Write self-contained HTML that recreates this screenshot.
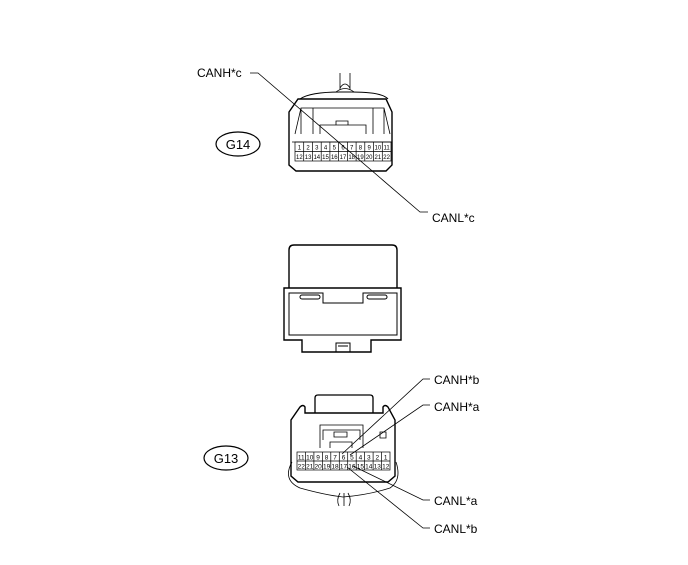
<!DOCTYPE html>
<html><head><style>
html,body{margin:0;padding:0;background:#fff;}
svg text{font-family:"Liberation Sans",sans-serif;}
</style></head><body>
<svg width="688" height="560" viewBox="0 0 688 560" xmlns="http://www.w3.org/2000/svg" fill="none" stroke="#000">
<!-- G14 -->
<ellipse cx="238" cy="144" rx="22" ry="12" stroke-width="1.2"/>
<text x="238" y="149" font-size="13" text-anchor="middle" fill="#000" stroke="none">G14</text>
<path d="M340 73 V90 M350 73 V90 M340 88 Q345 80 350 88 M336 92 Q345 85 354 92" stroke-width="0.8"/>
<path d="M300 99 Q310 92 340 92 H352 Q382 92 388 99" stroke-width="1"/>
<path d="M289 112 L298 99 H386 L392 112 V165 L386 171 H296 L289 165 Z" stroke-width="1.4"/>
<path d="M295 134 L301 108 H384 L390 134 M301 108 V134 M384 108 V134 M313 108 V134 M373 108 V134 M320 134 V125 H366 V134 M336 125 V121 H348 V125" stroke-width="0.8"/>
<path d="M292 142 H392" stroke-width="0.8"/>
<g stroke-width="0.7">
<rect x="295" y="142" width="96" height="19"/>
<line x1="295" y1="151.5" x2="391" y2="151.5"/>
<path d="M303.7 142V161M312.5 142V161M321.2 142V161M329.9 142V161M338.6 142V161M347.4 142V161M356.1 142V161M364.8 142V161M373.5 142V161M382.3 142V161"/>
</g>
<g font-size="6" fill="#000" stroke="none" text-anchor="middle">
<text x="299.4" y="149.5">1</text><text x="308.1" y="149.5">2</text><text x="316.8" y="149.5">3</text><text x="325.5" y="149.5">4</text><text x="334.3" y="149.5">5</text><text x="343" y="149.5">6</text><text x="351.7" y="149.5">7</text><text x="360.4" y="149.5">8</text><text x="369.2" y="149.5">9</text><text x="377.9" y="149.5">10</text><text x="386.6" y="149.5">11</text>
<text x="299.4" y="159">12</text><text x="308.1" y="159">13</text><text x="316.8" y="159">14</text><text x="325.5" y="159">15</text><text x="334.3" y="159">16</text><text x="343" y="159">17</text><text x="351.7" y="159">18</text><text x="360.4" y="159">19</text><text x="369.2" y="159">20</text><text x="377.9" y="159">21</text><text x="386.6" y="159">22</text>
</g>
<text x="197" y="77" font-size="12" fill="#000" stroke="none">CANH*c</text>
<path d="M250 73 H258 L420 212 H428" stroke-width="0.8"/>
<text x="432" y="222" font-size="12" fill="#000" stroke="none">CANL*c</text>
<!-- middle -->
<g stroke-width="1.4">
<path d="M289 288 V250 Q289 245 294 245 H392 Q397 245 397 250 V288"/>
<path d="M284 288 H401 V340 H371 V352 H302 V340 H284 Z"/>
</g>
<g stroke-width="1">
<path d="M289 335 V293 H323 V303 H363 V293 H397 V335 Z"/>
<rect x="300" y="295" width="20" height="4" rx="2"/>
<rect x="367" y="295" width="20" height="4" rx="2"/>
<path d="M336 352 V343 H350 V352 M338 346 H348"/>
</g>
<!-- G13 -->
<ellipse cx="226" cy="458" rx="22" ry="12" stroke-width="1.2"/>
<text x="226" y="463" font-size="13" text-anchor="middle" fill="#000" stroke="none">G13</text>
<path d="M315 413 V398 Q315 395 318 395 H370 Q373 395 373 398 V413" stroke-width="1.3"/>
<path d="M291 476 V420 L300 407 Q303 404 305 407 V413 H383 V407 Q385 404 388 407 L395 420 V476 L388 482 H298 Z" stroke-width="1.4"/>
<path d="M320 448 V425 H363 V448 M323 440 V430 H360 V440 M334 432 H347 V437 H334 Z M330 448 V442 H352 V448 M380 432 h6 v6 h-6 z" stroke-width="0.8"/>
<g stroke-width="0.7">
<rect x="297" y="452" width="93" height="18"/>
<line x1="297" y1="461" x2="390" y2="461"/>
<path d="M305.5 452V470M313.9 452V470M322.4 452V470M330.8 452V470M339.3 452V470M347.7 452V470M356.2 452V470M364.6 452V470M373.1 452V470M381.5 452V470"/>
</g>
<g font-size="6.5" fill="#000" stroke="none" text-anchor="middle">
<text x="301.2" y="459.5">11</text><text x="309.7" y="459.5">10</text><text x="318.1" y="459.5">9</text><text x="326.6" y="459.5">8</text><text x="335" y="459.5">7</text><text x="343.5" y="459.5">6</text><text x="351.9" y="459.5">5</text><text x="360.4" y="459.5">4</text><text x="368.8" y="459.5">3</text><text x="377.3" y="459.5">2</text><text x="385.7" y="459.5">1</text>
<text x="301.2" y="468.5">22</text><text x="309.7" y="468.5">21</text><text x="318.1" y="468.5">20</text><text x="326.6" y="468.5">19</text><text x="335" y="468.5">18</text><text x="343.5" y="468.5">17</text><text x="351.9" y="468.5">16</text><text x="360.4" y="468.5">15</text><text x="368.8" y="468.5">14</text><text x="377.3" y="468.5">13</text><text x="385.7" y="468.5">12</text>
</g>
<path d="M292 462 Q282 480 300 488 Q325 495 343 497 Q368 495 390 488 Q402 480 396 462" stroke-width="0.8"/>
<path d="M340 493 Q336 500 339 506 M344 493 V506 M348 493 Q352 500 349 506" stroke-width="0.8"/>
<g stroke-width="0.8">
<path d="M430 379 H423 L342 454"/>
<path d="M430 405 H423 L350 455"/>
<path d="M430 500 H423 L353 466"/>
<path d="M430 528 H423 L347 467"/>
</g>
<g font-size="12" fill="#000" stroke="none">
<text x="434" y="384">CANH*b</text>
<text x="434" y="411">CANH*a</text>
<text x="434" y="505">CANL*a</text>
<text x="434" y="533">CANL*b</text>
</g>
</svg>
</body></html>
